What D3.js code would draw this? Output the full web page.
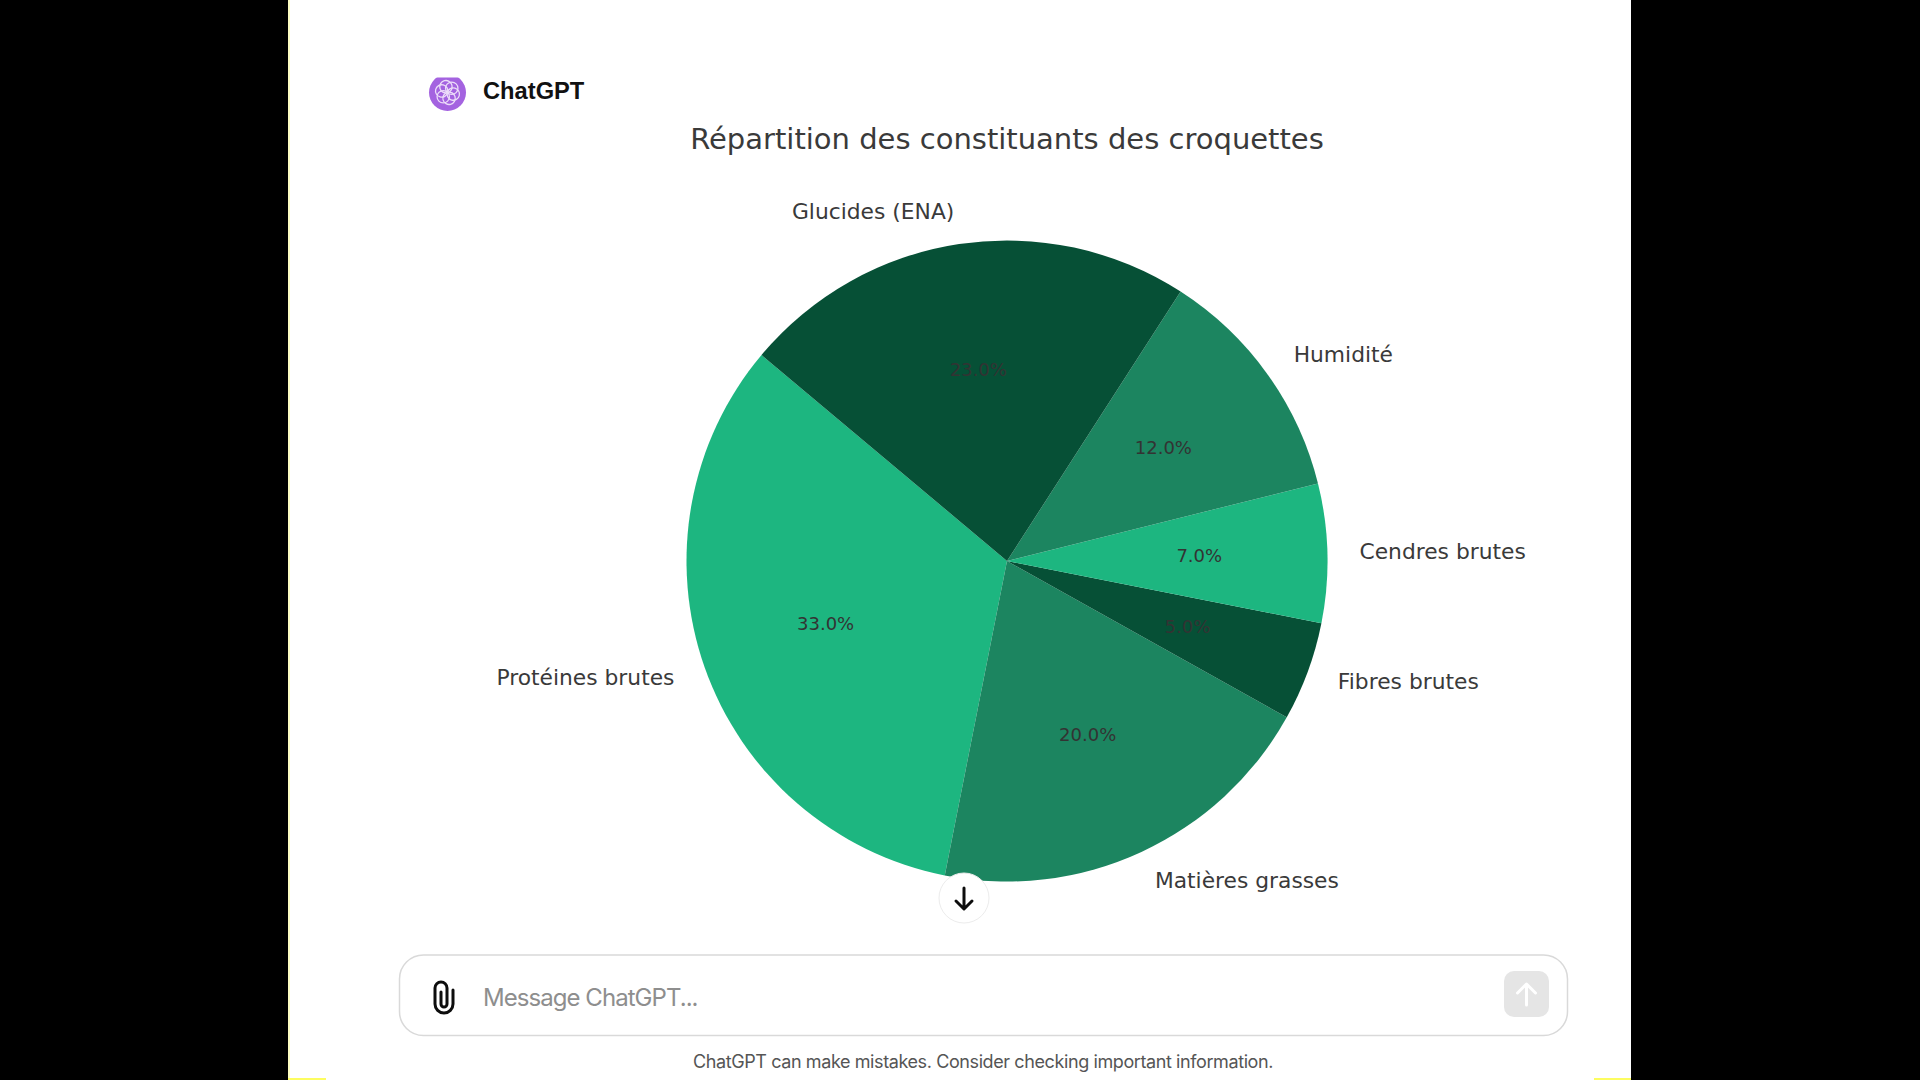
<!DOCTYPE html>
<html>
<head>
<meta charset="utf-8">
<title>Répartition des constituants des croquettes</title>
<script src="https://cdn.jsdelivr.net/npm/d3@7"></script>
<style>
  html, body { margin: 0; padding: 0; background: #000; overflow: hidden; }
</style>
</head>
<body>
<div id="chart"></div>
<script>
// Values
var categories = ["Protéines brutes", "Matières grasses", "Fibres brutes", "Cendres brutes", "Humidité", "Glucides (ENA)"];
var values = [33, 20, 5, 7, 12, 23];
var sliceColors = ["#1db680", "#1c8560", "#065036"];

var chartTitle = "Répartition des constituants des croquettes";
var senderName = "ChatGPT";
var placeholder = "Message ChatGPT...";
var disclaimer = "ChatGPT can make mistakes. Consider checking important information.";

var width = 1920, height = 1080;
var cx = 1007, cy = 561, radius = 320.5;

var svg = d3.select("#chart")
  .append("svg")
    .attr("width", width)
    .attr("height", height)
    .style("display", "block");

// Black bars and the white page between them
svg.append("rect").attr("width", width).attr("height", height).attr("fill", "#000");
svg.append("rect").attr("x", 288).attr("width", 1343).attr("height", height).attr("fill", "#fff");

// Yellow specks in the page corners
svg.append("rect").attr("x", 288).attr("width", 2).attr("height", height).attr("fill", "#fefec4");
svg.append("rect").attr("x", 288).attr("y", 1078).attr("width", 38).attr("height", 2).attr("fill", "#fdfd60");
svg.append("rect").attr("x", 1594).attr("y", 1078).attr("width", 37).attr("height", 2).attr("fill", "#fdfd60");

// Sender line
var logo = svg.append("g").attr("transform", "translate(447.5,92.5)");
logo.append("clipPath").attr("id", "logoClip")
  .append("rect").attr("x", -20).attr("y", -15).attr("width", 40).attr("height", 36);
var logoBody = logo.append("g").attr("clip-path", "url(#logoClip)");
logoBody.append("circle").attr("r", 18.5).attr("fill", "#a463e0");
d3.range(6).forEach(function(i) {
  logoBody.append("circle")
    .attr("cx", 6)
    .attr("r", 6.2)
    .attr("transform", "rotate(" + (i * 60 + 15) + ")")
    .attr("fill", "none")
    .attr("stroke", "#ecdcf9")
    .attr("stroke-width", 1.3);
});

svg.append("text")
  .attr("x", 483)
  .attr("y", 99)
  .attr("font-family", "Liberation Sans, Arial, sans-serif")
  .attr("font-weight", "bold")
  .attr("font-size", 23.7)
  .attr("fill", "#111")
  .text(senderName);

// Title
svg.append("text")
  .attr("x", cx)
  .attr("y", 149)
  .attr("text-anchor", "middle")
  .attr("font-family", "DejaVu Sans, sans-serif")
  .attr("font-size", 29)
  .attr("fill", "#3a3a3a")
  .text(chartTitle);

// Pie, running counter clockwise from the top left
var startAngle = -50 * Math.PI / 180;
var pie = d3.pie()
  .sort(null)
  .startAngle(startAngle)
  .endAngle(startAngle - 2 * Math.PI);

var color = d3.scaleOrdinal().domain(d3.range(3)).range(sliceColors);

var arc = d3.arc().innerRadius(0).outerRadius(radius);
var labelArc = d3.arc().innerRadius(radius * 1.1).outerRadius(radius * 1.1);
var pctArc = d3.arc().innerRadius(radius * 0.6).outerRadius(radius * 0.6);

var arcs = pie(values);
var g = svg.append("g").attr("transform", "translate(" + cx + "," + cy + ")");

g.selectAll("path")
  .data(arcs)
  .enter().append("path")
    .attr("d", arc)
    .attr("fill", function(d, i) { return color(i % 3); });

// Category labels outside the pie
g.selectAll(".label")
  .data(arcs)
  .enter().append("text")
    .attr("class", "label")
    .attr("x", function(d) { return labelArc.centroid(d)[0]; })
    .attr("y", function(d) { return labelArc.centroid(d)[1]; })
    .attr("dy", "0.3em")
    .attr("text-anchor", function(d) { return labelArc.centroid(d)[0] < 0 ? "end" : "start"; })
    .attr("font-family", "DejaVu Sans, sans-serif")
    .attr("font-size", 21.8)
    .attr("fill", "#3a3a3a")
    .text(function(d, i) { return categories[i]; });

// Percentages inside the slices
g.selectAll(".pct")
  .data(arcs)
  .enter().append("text")
    .attr("class", "pct")
    .attr("x", function(d) { return pctArc.centroid(d)[0]; })
    .attr("y", function(d) { return pctArc.centroid(d)[1]; })
    .attr("dy", "0.3em")
    .attr("text-anchor", "middle")
    .attr("font-family", "DejaVu Sans, sans-serif")
    .attr("font-size", 18)
    .attr("fill", "#333")
    .text(function(d) { return d.value.toFixed(1) + "%"; });

// Scroll down button
var down = svg.append("g").attr("transform", "translate(964,898)");
down.append("circle").attr("r", 25).attr("fill", "#fff").attr("stroke", "#ececec").attr("stroke-width", 1);
down.append("path")
  .attr("d", "M0,-10V10M-8,3L0,11L8,3")
  .attr("fill", "none")
  .attr("stroke", "#0d0d0d")
  .attr("stroke-width", 3)
  .attr("stroke-linecap", "round")
  .attr("stroke-linejoin", "round");

// Message box
svg.append("rect")
  .attr("x", 399.5)
  .attr("y", 955)
  .attr("width", 1168)
  .attr("height", 80.5)
  .attr("rx", 24)
  .attr("fill", "#fff")
  .attr("stroke", "#d9d9d9")
  .attr("stroke-width", 1.5);

// Paper clip
svg.append("path")
  .attr("transform", "translate(444,997)")
  .attr("d", "M-3,-5V7a3,3 0 0 0 6,0V-9a6,6 0 0 0 -6,-6a6,6 0 0 0 -6,6V7a9,9 0 0 0 18,0V-7")
  .attr("fill", "none")
  .attr("stroke", "#0d0d0d")
  .attr("stroke-width", 3)
  .attr("stroke-linecap", "round");

svg.append("text")
  .attr("x", 483)
  .attr("y", 1006)
  .attr("font-family", "Inter, Liberation Sans, sans-serif")
  .attr("font-size", 24)
  .attr("letter-spacing", -0.95)
  .attr("fill", "#8e8e8e")
  .text(placeholder);

// Send button
svg.append("rect")
  .attr("x", 1504)
  .attr("y", 971)
  .attr("width", 45)
  .attr("height", 46)
  .attr("rx", 10)
  .attr("fill", "#e5e5e5");
svg.append("path")
  .attr("transform", "translate(1526.5,994)")
  .attr("d", "M0,11V-10M-9,-1L0,-10L9,-1")
  .attr("fill", "none")
  .attr("stroke", "#fff")
  .attr("stroke-width", 3)
  .attr("stroke-linecap", "round")
  .attr("stroke-linejoin", "round");

// Footer note
svg.append("text")
  .attr("x", 983)
  .attr("y", 1068)
  .attr("text-anchor", "middle")
  .attr("font-family", "Inter, Liberation Sans, sans-serif")
  .attr("font-size", 18)
  .attr("letter-spacing", -0.4)
  .attr("fill", "#555")
  .text(disclaimer);
</script>
</body>
</html>
